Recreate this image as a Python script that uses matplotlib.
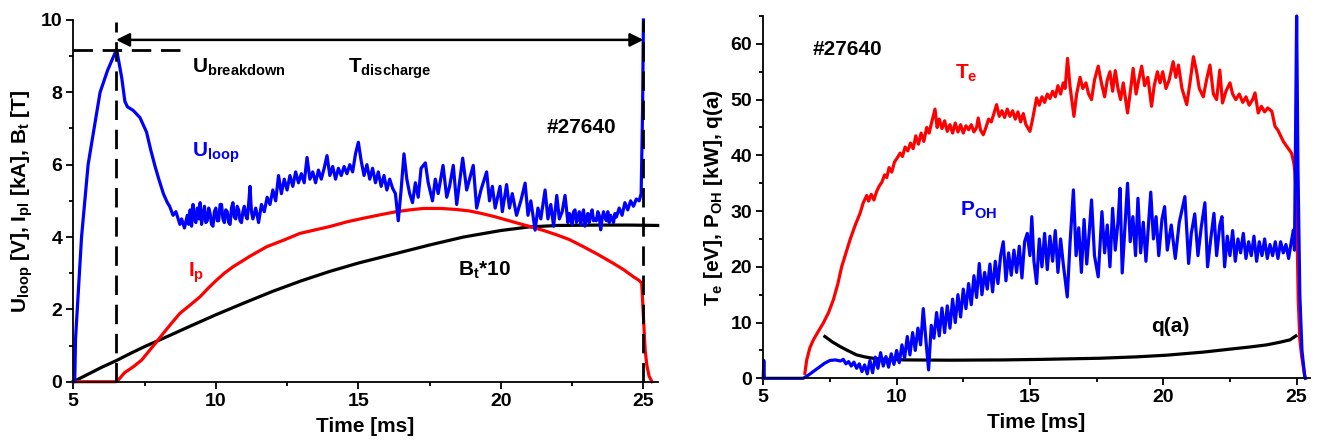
import matplotlib
matplotlib.use("Agg")
import matplotlib.pyplot as plt
from matplotlib.ticker import MultipleLocator

plt.rcParams['font.family'] = ['Liberation Sans', 'DejaVu Sans']
plt.rcParams['font.weight'] = 'bold'
plt.rcParams['mathtext.fontset'] = 'custom'
plt.rcParams['mathtext.rm'] = 'Liberation Sans:bold'
plt.rcParams['mathtext.bf'] = 'Liberation Sans:bold'
plt.rcParams['mathtext.it'] = 'Liberation Sans:bold'
plt.rcParams['mathtext.default'] = 'bf'

# ---------------- Left panel data ----------------
uloop_t = [5.0, 5.05, 5.08, 5.14, 5.29, 5.52, 5.94, 6.2, 6.52, 6.7, 6.81, 6.9, 7.1, 7.34, 7.57, 7.72,
           7.87, 8.0, 8.16, 8.3, 8.38, 8.5, 8.6, 8.74, 8.8, 8.9,
           9.0, 9.05, 9.1, 9.15, 9.2, 9.25, 9.3, 9.35, 9.4, 9.45, 9.5, 9.55, 9.6, 9.65, 9.7, 9.75,
           9.8, 9.85, 9.9, 9.95, 10.0, 10.05, 10.1, 10.15, 10.2, 10.25, 10.3, 10.35, 10.4, 10.45,
           10.5, 10.55, 10.6, 10.65, 10.7, 10.75, 10.8, 10.85, 10.9, 10.95, 11.0, 11.05, 11.1,
           11.15, 11.2, 11.25, 11.3, 11.4, 11.5, 11.6, 11.7, 11.8, 11.9, 12.0, 12.1,
           12.2, 12.3, 12.4, 12.5, 12.6, 12.7, 12.8, 12.9, 13.0, 13.1, 13.2, 13.3, 13.4, 13.5, 13.6,
           13.7, 13.8, 13.9, 14.0, 14.1, 14.2, 14.3, 14.4, 14.5, 14.6, 14.7, 14.8, 14.9, 15.0, 15.1,
           15.2, 15.3, 15.4, 15.5, 15.6, 15.7, 15.8, 15.9, 16.0, 16.1, 16.2, 16.3, 16.4, 16.5, 16.6,
           16.7, 16.8, 16.9, 17.0, 17.1, 17.2, 17.35, 17.45, 17.6, 17.7, 17.8, 17.97, 18.1, 18.2,
           18.33, 18.45, 18.55, 18.66, 18.8, 18.9, 19.03, 19.15, 19.3, 19.5, 19.6, 19.7, 19.8, 19.97,
           20.05, 20.2, 20.3, 20.4, 20.55, 20.7, 20.85, 20.95, 21.05, 21.2, 21.3, 21.4, 21.55, 21.65,
           21.75, 21.85, 21.96, 22.05, 22.15, 22.25, 22.35, 22.4, 22.45, 22.5, 22.55, 22.6, 22.65,
           22.7, 22.75, 22.8, 22.85, 22.9, 22.95, 23.0, 23.05, 23.1, 23.15, 23.2, 23.25, 23.3, 23.35,
           23.4, 23.45, 23.5, 23.55, 23.6, 23.65, 23.7, 23.75, 23.8, 23.85, 23.9, 23.95, 24.0, 24.05,
           24.15, 24.25, 24.35, 24.45, 24.55, 24.65, 24.75, 24.85, 24.92, 24.97, 25.0]
uloop_v = [0.0, 0.0, 1.2, 2.0, 4.0, 6.0, 8.0, 8.6, 9.19, 8.4, 7.75, 7.6, 7.5, 7.3, 6.9, 6.4,
           5.95, 5.6, 5.2, 4.95, 4.85, 4.6, 4.7, 4.35, 4.5, 4.25,
           4.6, 4.35, 4.75, 4.3, 4.9, 4.5, 4.4, 4.8, 4.5, 4.95, 4.35, 4.6, 4.85, 4.4, 4.45, 4.8,
           4.65, 4.35, 4.3, 4.7, 4.8, 4.45, 4.45, 4.9, 4.9, 4.5, 4.4, 4.75, 4.7, 4.4,
           4.35, 4.8, 4.95, 4.55, 4.5, 4.85, 4.75, 4.45, 4.4, 4.7, 4.85, 4.6, 4.5,
           4.9, 5.4, 4.7, 4.5, 4.8, 4.4, 4.9, 4.7, 5.1, 4.9, 5.3, 5.0,
           5.7, 5.2, 5.6, 5.3, 5.7, 5.4, 5.8, 5.5, 5.75, 5.5, 6.2, 5.6, 5.8, 5.5, 5.85,
           5.6, 5.9, 6.25, 5.7, 5.95, 5.6, 5.9, 5.7, 5.95, 5.75, 6.0, 5.8, 6.3, 6.62, 6.1,
           5.7, 6.0, 5.6, 5.9, 5.5, 5.8, 5.4, 5.7, 5.3, 5.6, 5.35, 5.2, 4.45, 5.3, 6.3,
           5.6, 5.2, 4.95, 5.5, 5.1, 5.9, 6.05, 5.5, 5.0, 5.6, 5.2, 5.98, 5.1, 5.4,
           5.98, 4.9, 5.5, 6.18, 5.3, 5.6, 5.98, 4.8, 5.3, 5.8, 5.0, 5.4, 4.8, 5.4,
           4.7, 5.45, 4.8, 5.2, 4.6, 5.0, 5.49, 4.6, 5.0, 4.19, 4.8, 4.5, 5.3, 4.5,
           4.9, 4.3, 5.15, 4.5, 4.7, 5.15, 4.4, 4.65, 4.6, 4.35, 4.7, 4.75, 4.4,
           4.5, 4.7, 4.35, 4.6, 4.75, 4.3, 4.5, 4.65, 4.4, 4.6, 4.75, 4.45, 4.5, 4.45,
           4.7, 4.6, 4.2, 4.5, 4.7, 4.55, 4.45, 4.7, 4.4, 4.6, 4.5, 4.4, 4.65, 4.55,
           4.8, 4.6, 4.95, 4.75, 5.0, 4.85, 5.05, 5.0, 5.2, 7.5, 10.0]

ip_t = [5.0, 6.5, 6.55, 6.8, 7.1, 7.4, 7.69, 7.9, 8.16, 8.45, 8.74, 9.1, 9.45, 9.75, 10.03, 10.3,
        10.61, 11.2, 11.78, 12.4, 12.95, 13.5, 14.0, 14.6, 15.18, 15.8, 16.33, 16.8, 17.28, 17.9,
        18.45, 18.9, 19.27, 19.75, 20.2, 20.6, 21.02, 21.5, 21.96, 22.4, 22.9, 23.4, 23.95, 24.3,
        24.65, 24.85, 24.94, 25.0, 25.06, 25.12, 25.2, 25.3]
ip_v = [0.0, 0.0, 0.02, 0.25, 0.41, 0.6, 0.88, 1.08, 1.34, 1.62, 1.89, 2.12, 2.35, 2.6, 2.81, 3.0,
        3.18, 3.47, 3.73, 3.92, 4.1, 4.2, 4.29, 4.42, 4.52, 4.62, 4.7, 4.75, 4.79, 4.79,
        4.76, 4.72, 4.66, 4.57, 4.47, 4.38, 4.29, 4.18, 4.06, 3.93, 3.73, 3.52, 3.27, 3.1,
        2.9, 2.8, 2.72, 1.8, 0.88, 0.45, 0.15, 0.0]

bt_t = [5.0, 5.5, 6.0, 6.5, 7.0, 7.5, 8.16, 9.0, 10.0, 11.0, 12.0, 13.0, 14.0, 15.0, 16.35, 17.5,
        18.69, 20.0, 21.0, 22.0, 23.4, 24.5, 25.5]
bt_v = [0.0, 0.2, 0.4, 0.58, 0.78, 0.97, 1.2, 1.5, 1.85, 2.18, 2.5, 2.79, 3.05, 3.28, 3.55, 3.78,
        4.0, 4.18, 4.28, 4.32, 4.33, 4.33, 4.32]

# ---------------- Right panel data ----------------
poh_t = [5.0, 5.02, 5.04, 6.5, 6.7, 6.9, 7.1, 7.3, 7.5, 7.7, 7.9, 8.0, 8.1, 8.2, 8.3, 8.4, 8.5, 8.6,
         8.7, 8.8, 8.9, 9.0, 9.1, 9.2, 9.3, 9.4, 9.5, 9.6, 9.7, 9.8, 9.9, 10.0, 10.1, 10.2, 10.3,
         10.4, 10.5, 10.6, 10.7, 10.8, 10.9, 11.0, 11.1, 11.2, 11.3, 11.4, 11.5, 11.6, 11.7, 11.8,
         11.9, 12.0, 12.1, 12.2, 12.3, 12.4, 12.5, 12.6, 12.7, 12.8, 12.9, 13.0, 13.1, 13.2, 13.3,
         13.4, 13.5, 13.6, 13.7, 13.8, 13.9, 14.0, 14.1, 14.2, 14.3, 14.4, 14.5, 14.6, 14.7, 14.8,
         14.9, 15.0, 15.07, 15.15, 15.25, 15.35, 15.45, 15.55, 15.65, 15.75, 15.85, 15.95, 16.05,
         16.15, 16.25, 16.4, 16.5, 16.63, 16.73, 16.83, 16.93, 17.03, 17.13, 17.22, 17.31, 17.42,
         17.56, 17.7, 17.8, 17.9, 18.0, 18.1, 18.2, 18.3, 18.38, 18.46, 18.56, 18.66, 18.76, 18.86,
         18.96, 19.05, 19.15, 19.25, 19.35, 19.53, 19.63, 19.73, 19.83, 19.95, 20.05, 20.15, 20.3,
         20.45, 20.6, 20.81, 20.95, 21.05, 21.18, 21.3, 21.42, 21.56, 21.66, 21.78, 21.9, 22.0,
         22.12, 22.2, 22.3, 22.4, 22.5, 22.6, 22.7, 22.8, 22.9, 23.0, 23.1, 23.2, 23.3, 23.4, 23.5,
         23.6, 23.7, 23.8, 23.9, 24.0, 24.1, 24.2, 24.3, 24.4, 24.5, 24.6, 24.7, 24.8, 24.88, 24.92,
         24.96, 25.0, 25.05, 25.12, 25.2, 25.3, 25.33]
poh_v = [0.0, 3.2, 0.0, 0.0, 0.6, 1.3, 2.0, 2.7, 3.2, 3.3, 3.1, 3.4, 2.6, 3.0, 2.2, 2.9, 1.8, 2.6,
         1.2, 2.4, 0.8, 3.2, 1.0, 3.8, 1.8, 4.6, 2.2, 3.9, 2.0, 4.4, 2.5, 5.0, 2.8, 6.0, 3.6,
         7.5, 4.2, 8.2, 5.0, 9.0, 6.0, 12.5, 6.8, 1.5, 9.5, 7.2, 11.8, 7.6, 12.6, 8.2,
         13.0, 9.0, 14.2, 10.0, 15.0, 11.0, 16.0, 12.5, 17.0, 13.2, 18.4, 14.5, 20.6, 15.0, 19.0,
         16.0, 20.5, 15.5, 21.0, 17.0, 22.0, 24.5, 17.5, 22.5, 18.5, 23.0, 19.0, 23.7, 18.0, 24.5,
         26.0, 22.0, 29.0, 21.0, 17.0, 25.0, 20.0, 26.0, 19.5, 25.5, 21.0, 26.5, 19.0,
         25.0, 20.5, 14.6, 24.0, 33.8, 22.0, 27.0, 19.0, 28.5, 20.5, 26.0, 32.0, 22.0,
         18.2, 29.9, 22.5, 27.5, 20.0, 30.5, 23.0, 28.0, 34.1, 18.9, 27.0, 35.0, 24.5, 29.0,
         22.0, 32.3, 22.5, 28.0, 21.0, 33.4, 25.0, 29.0, 22.0, 28.5, 30.8, 23.0, 27.5,
         21.5, 28.0, 32.6, 20.6, 26.0, 29.5, 22.0, 27.0, 31.5, 20.0, 25.0, 29.6, 22.0,
         27.5, 29.0, 20.0, 25.5, 22.0, 26.5, 21.0, 25.0, 22.5, 26.0, 21.5, 24.5, 22.0, 25.5, 21.0,
         24.5, 22.0, 25.0, 21.5, 24.0, 22.0, 24.5, 21.5, 24.5, 22.5, 24.0, 21.5, 24.5, 26.6, 23.0,
         44.0, 65.0, 38.0, 15.0, 5.0, 0.5, 0.0]

te_t = [6.56, 6.63, 6.75, 6.88, 7.05, 7.25, 7.45, 7.63, 7.8, 7.94, 8.1, 8.25, 8.45, 8.63, 8.75, 8.88,
        8.95, 9.05, 9.15, 9.25, 9.35, 9.45, 9.55, 9.63, 9.72, 9.82, 9.92, 10.02, 10.13, 10.22, 10.32,
        10.42, 10.52, 10.62, 10.72, 10.82, 10.92, 11.02, 11.13, 11.22, 11.32, 11.44, 11.52, 11.6,
        11.7, 11.8, 11.9, 12.0, 12.1, 12.2, 12.3, 12.4, 12.5, 12.6, 12.7, 12.8, 12.9, 13.0, 13.06,
        13.15, 13.25, 13.35, 13.45, 13.55, 13.65, 13.75, 13.85, 13.95, 14.05, 14.15, 14.25, 14.35,
        14.45, 14.55, 14.65, 14.75, 14.85, 15.0, 15.1, 15.25, 15.35, 15.45, 15.55, 15.65, 15.75,
        15.85, 15.95, 16.05, 16.15, 16.25, 16.32, 16.41, 16.5, 16.65, 16.75, 16.88, 16.98, 17.1,
        17.2, 17.31, 17.42, 17.56, 17.68, 17.8, 17.9, 18.0, 18.1, 18.2, 18.3, 18.4, 18.5, 18.66,
        18.78, 18.87, 18.98, 19.08, 19.19, 19.3, 19.42, 19.56, 19.66, 19.78, 19.88, 19.98, 20.1,
        20.22, 20.37, 20.47, 20.57, 20.7, 20.88, 21.0, 21.13, 21.25, 21.35, 21.5, 21.62, 21.75,
        21.88, 22.0, 22.12, 22.22, 22.35, 22.5, 22.6, 22.72, 22.85, 22.98, 23.1, 23.22, 23.35,
        23.44, 23.56, 23.68, 23.8, 23.92, 24.07, 24.19, 24.3, 24.38, 24.5, 24.63, 24.72, 24.81,
        24.9, 24.94, 25.0, 25.06, 25.12, 25.19, 25.31]
te_v = [0.9, 3.3, 5.5, 6.9, 8.3, 9.9, 11.8, 14.1, 17.0, 20.0, 22.5, 24.8, 27.5, 29.6, 31.5, 32.8,
        31.8, 33.0, 32.0, 33.5, 34.5, 35.2, 36.5, 36.0, 37.8, 37.0, 38.8, 39.5, 40.4, 39.8, 41.5,
        40.8, 42.2, 41.2, 43.5, 42.0, 44.0, 42.5, 45.0, 44.0, 46.0, 48.3, 45.0, 46.5,
        44.8, 46.2, 44.3, 45.5, 44.0, 45.8, 44.2, 45.5, 44.0, 45.3, 44.6, 45.5, 44.2, 45.0, 46.7,
        44.5, 43.7, 45.0, 46.5, 46.0, 47.5, 49.1, 47.0, 48.0, 46.8, 48.3, 47.0, 48.0,
        46.5, 47.8, 46.0, 47.5, 45.5, 44.3, 46.5, 50.3, 49.0, 50.5, 49.5, 51.0, 50.2,
        51.5, 50.5, 52.5, 51.0, 53.0, 52.0, 57.4, 52.5, 47.0, 51.0, 54.0, 52.0, 53.0,
        51.0, 50.0, 53.5, 56.0, 53.0, 50.5, 53.5, 55.0, 51.5, 55.2, 52.0, 50.0, 53.0, 47.6,
        52.0, 55.6, 51.0, 53.5, 56.0, 52.5, 54.0, 48.8, 52.5, 55.0, 53.0, 55.0, 52.0,
        53.5, 56.8, 54.0, 56.2, 52.0, 49.1, 53.0, 57.7, 55.0, 52.0, 50.5, 53.5, 56.2,
        51.0, 50.0, 55.3, 49.4, 51.5, 53.0, 51.0, 50.0, 51.0, 49.5, 50.5, 49.0, 50.0,
        51.2, 47.6, 48.8, 47.8, 48.5, 47.9, 45.2, 44.5, 43.7, 42.5, 41.6, 41.0, 40.4,
        38.5, 36.8, 30.8, 14.1, 7.0, 3.9, 0.3]

qa_t = [7.31, 7.6, 7.88, 8.2, 8.5, 8.8, 9.1, 9.6, 10.3, 12.0, 14.0, 15.5, 17.63, 19.0, 20.13, 21.5,
        22.63, 23.3, 23.88, 24.4, 24.75, 24.97]
qa_v = [7.5, 6.5, 5.7, 4.9, 4.2, 3.85, 3.6, 3.4, 3.3, 3.25, 3.3, 3.4, 3.6, 3.85, 4.15, 4.7,
        5.3, 5.65, 6.0, 6.5, 6.9, 7.6]

x_ticks = [5, 10, 15, 20, 25]
left_yticks = [0, 2, 4, 6, 8, 10]
right_yticks = [0, 10, 20, 30, 40, 50, 60]

BLUE = '#0000ff'
RED = '#ff0000'
LW = 2.3

fig = plt.figure(figsize=(13.18, 4.42), dpi=100)
axL = fig.add_axes([0.0556, 0.1364, 0.4434, 0.8184])
axR = fig.add_axes([0.5791, 0.1441, 0.4148, 0.8197])

def style(ax):
    for s in ['top', 'right']:
        ax.spines[s].set_visible(False)
    for s in ['left', 'bottom']:
        ax.spines[s].set_linewidth(1.3)
    ax.tick_params(which='major', direction='out', length=5, width=1.3, labelsize=14, pad=3)
    ax.tick_params(which='minor', direction='out', length=3, width=1.3)
    for lab in ax.get_xticklabels() + ax.get_yticklabels():
        lab.set_fontweight('bold')
    ax.set_xlabel('Time [ms]', fontsize=15, fontweight='bold', labelpad=5)

# ---------------- Left ----------------
axL.plot(bt_t, bt_v, color='black', lw=LW, clip_on=False)
axL.plot(ip_t, ip_v, color=RED, lw=LW, clip_on=False)
axL.plot(uloop_t, uloop_v, color=BLUE, lw=LW, clip_on=False)
axL.plot([6.5, 6.5], [0, 9.95], color='black', lw=2.0, linestyle=(0, (7, 3.5)))
axL.plot([25.0, 25.0], [0, 10], color='black', lw=2.0, linestyle=(0, (7, 3.5)))
axL.plot([5.0, 8.74], [9.17, 9.17], color='black', lw=2.0, linestyle=(0, (7, 3.5)))
axL.annotate('', xy=(25.0, 9.45), xytext=(6.5, 9.45),
             arrowprops=dict(arrowstyle='<|-|>', color='black', lw=1.8,
                             mutation_scale=20, shrinkA=0, shrinkB=0))
axL.set_xlim(5, 25.5)
axL.set_ylim(0, 10)
axL.set_xticks(x_ticks)
axL.xaxis.set_minor_locator(MultipleLocator(2.5))
axL.set_yticks(left_yticks)
axL.yaxis.set_minor_locator(MultipleLocator(1))
style(axL)
axL.set_ylabel(r'U$_{loop}$ [V], I$_{pl}$ [kA], B$_{t}$ [T]', fontsize=15, fontweight='bold', labelpad=4)

axL.text(9.15, 8.98, r'U$_{breakdown}$', fontsize=15, va='top', ha='left', color='black')
axL.text(14.65, 8.98, r'T$_{discharge}$', fontsize=15, va='top', ha='left', color='black')
axL.text(21.6, 7.29, '#27640', fontsize=15, va='top', ha='left', color='black', fontweight='bold')
axL.text(9.15, 6.68, r'U$_{loop}$', fontsize=15, va='top', ha='left', color=BLUE)
axL.text(9.04, 3.36, r'I$_{p}$', fontsize=15, va='top', ha='left', color=RED)
axL.text(18.51, 3.36, r'B$_{t}$*10', fontsize=15, va='top', ha='left', color='black')

# ---------------- Right ----------------
axR.plot(qa_t, qa_v, color='black', lw=LW, clip_on=False)
axR.plot(te_t, te_v, color=RED, lw=LW, clip_on=False)
axR.plot(poh_t, poh_v, color=BLUE, lw=LW, clip_on=False)
axR.set_xlim(5, 25.5)
axR.set_ylim(0, 65)
axR.set_xticks(x_ticks)
axR.xaxis.set_minor_locator(MultipleLocator(2.5))
axR.set_yticks(right_yticks)
axR.yaxis.set_minor_locator(MultipleLocator(5))
style(axR)
axR.set_ylabel(r'T$_{e}$ [eV], P$_{OH}$ [kW], q(a)', fontsize=15, fontweight='bold', labelpad=4)

axR.text(6.87, 60.7, '#27640', fontsize=15, va='top', ha='left', color='black', fontweight='bold')
axR.text(12.19, 56.6, r'T$_{e}$', fontsize=15, va='top', ha='left', color=RED)
axR.text(12.38, 32.0, r'P$_{OH}$', fontsize=15, va='top', ha='left', color=BLUE)
axR.text(19.56, 11.0, 'q(a)', fontsize=15, va='top', ha='left', color='black', fontweight='bold')

fig.savefig('out.png', dpi=100)
